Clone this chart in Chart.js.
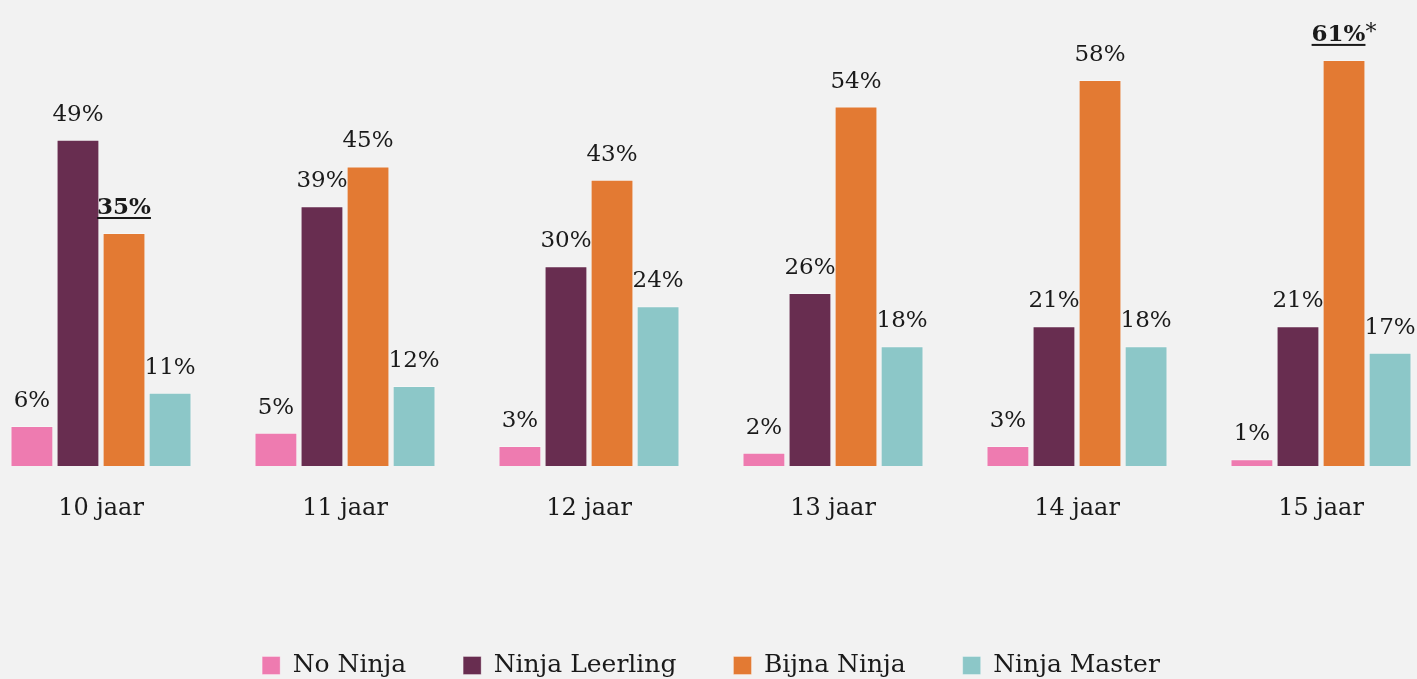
<!DOCTYPE html>
<html>
<head>
<meta charset="utf-8">
<script src="https://cdn.jsdelivr.net/npm/chart.js@4.4.1/dist/chart.umd.min.js"></script>
<style>
  html, body { margin: 0; padding: 0; background: #f2f2f2; overflow: hidden; }
  #wrap { position: absolute; left: -21px; top: 0; width: 1464px; height: 679px; }
</style>
</head>
<body>
<div id="wrap"><canvas id="ninjaChart"></canvas></div>
<script>
const ages = ['10 jaar', '11 jaar', '12 jaar', '13 jaar', '14 jaar', '15 jaar'];
const noNinja = [6, 5, 3, 2, 3, 1];
const ninjaLeerling = [49, 39, 30, 26, 21, 21];
const bijnaNinja = [35, 45, 43, 54, 58, 61];
const ninjaMaster = [11, 12, 24, 18, 18, 17];
// labels shown bold + underlined ("dataset-index"), and the one with an asterisk
const boldLabels = ['2-0', '2-5'];
const starLabels = ['2-5'];

const serif = "'DejaVu Serif', serif";

// draws the % above every bar
const valueLabels = {
    id: 'valueLabels',
    afterDatasetsDraw(chart) {
        const ctx = chart.ctx;
        ctx.save();
        ctx.fillStyle = '#1a1a1a';
        ctx.textBaseline = 'alphabetic';
        ctx.textAlign = 'left';
        chart.data.datasets.forEach((ds, di) => {
            const meta = chart.getDatasetMeta(di);
            meta.data.forEach((bar, i) => {
                const key = di + '-' + i;
                const txt = ds.data[i] + '%';
                const y = bar.y - 19;
                const bold = boldLabels.includes(key);
                const star = starLabels.includes(key);
                const font = (bold ? 'bold ' : '') + '23px ' + serif;
                ctx.font = font;
                const w = ctx.measureText(txt).width;
                let sw = 0;
                if (star) {
                    ctx.font = '22px ' + serif;
                    sw = ctx.measureText('*').width;
                }
                const x0 = bar.x - (w + sw) / 2;
                ctx.font = font;
                ctx.fillText(txt, x0, y);
                if (bold) {
                    ctx.fillRect(x0, y + 3, w, 2);
                }
                if (star) {
                    ctx.font = '22px ' + serif;
                    ctx.fillText('*', x0 + w, y - 2);
                }
            });
        });
        ctx.restore();
    }
};

const mkSet = (label, data, color) => ({
    label: label,
    data: data,
    backgroundColor: color,
    borderColor: 'rgba(255,255,255,0.3)',
    borderWidth: 1,
    categoryPercentage: 0.755,
    barPercentage: 0.93
});

new Chart(document.getElementById('ninjaChart'), {
    type: 'bar',
    data: {
        labels: ages,
        datasets: [
            mkSet('No Ninja', noNinja, '#ee7bb0'),
            mkSet('Ninja Leerling', ninjaLeerling, '#682d50'),
            mkSet('Bijna Ninja', bijnaNinja, '#e37a33'),
            mkSet('Ninja Master', ninjaMaster, '#8cc7c8')
        ]
    },
    options: {
        responsive: true,
        maintainAspectRatio: false,
        animation: false,
        layout: { padding: { top: 0, left: 0, right: 0, bottom: -9 } },
        scales: {
            x: {
                grid: { display: false, drawTicks: false },
                border: { display: false },
                ticks: {
                    color: '#1a1a1a',
                    font: { family: serif, size: 24 },
                    padding: 28
                },
                afterFit(scale) { scale.height = 130; }
            },
            y: {
                display: false,
                min: 0,
                max: 70
            }
        },
        plugins: {
            legend: {
                position: 'bottom',
                labels: {
                    color: '#1a1a1a',
                    font: { family: serif, size: 25 },
                    boxWidth: 18,
                    boxHeight: 18,
                    padding: 57
                }
            },
            tooltip: { enabled: false }
        }
    },
    plugins: [valueLabels]
});
</script>
</body>
</html>
